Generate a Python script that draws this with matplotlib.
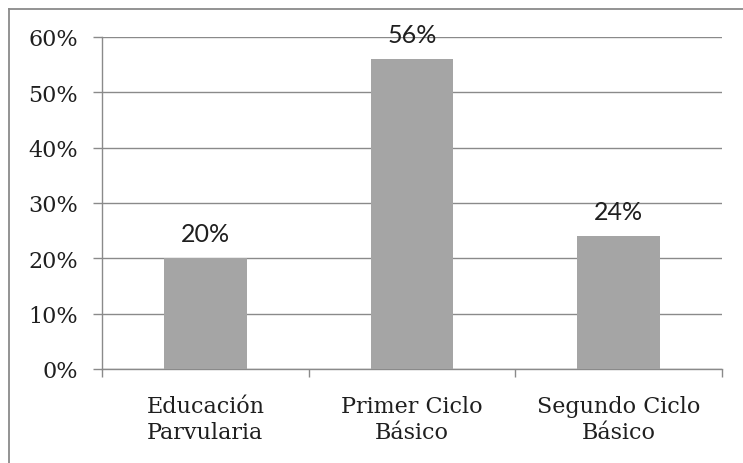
import matplotlib
matplotlib.use("Agg")
import matplotlib.pyplot as plt
from matplotlib.lines import Line2D
from matplotlib.ticker import FuncFormatter

categories = ["Educación\nParvularia", "Primer Ciclo\nBásico", "Segundo Ciclo\nBásico"]
values = [0.20, 0.56, 0.24]
labels = ["20%", "56%", "24%"]
yticks = [0.0, 0.1, 0.2, 0.3, 0.4, 0.5, 0.6]

W, H = 743, 464
fig = plt.figure(figsize=(W / 100, H / 100), dpi=100)
ax = fig.add_axes([102 / W, (H - 370) / H, (722 - 102) / W, (370 - 38) / H])

grid_c = "#8a8a8a"
text_c = "#1f1f1f"
serif = "DejaVu Serif"

x = list(range(len(categories)))
ax.bar(x, values, width=0.4, color="#a5a5a5", zorder=3)

for xi, v, lab in zip(x, values, labels):
    ax.annotate(lab, (xi, v), xytext=(0, 12.2), textcoords="offset points",
                ha="center", va="baseline", fontsize=18, family="Lato",
                color=text_c, zorder=4)

ax.set_xlim(-0.5, len(categories) - 0.5)
ax.set_ylim(0, 0.6)
ax.set_yticks(yticks)
ax.yaxis.set_major_formatter(FuncFormatter(lambda v, p: f"{v*100:.0f}%"))
ax.yaxis.grid(True, color=grid_c, linewidth=1.0, zorder=0)
ax.set_axisbelow(True)

ax.set_xticks(x)
ax.set_xticklabels(categories, family=serif, fontsize=16, color=text_c, linespacing=1.2)
ax.set_xticks([i - 0.5 for i in range(len(categories) + 1)], minor=True)
ax.tick_params(axis="x", which="major", length=0, pad=19)
ax.tick_params(axis="x", which="minor", length=6, width=1.0, color=grid_c, direction="out")
ax.tick_params(axis="y", which="major", length=6.5, width=1.0, color=grid_c, pad=11,
               labelsize=16, labelcolor=text_c)
for t in ax.get_yticklabels():
    t.set_family(serif)

for s in ["top", "right"]:
    ax.spines[s].set_visible(False)
for s in ["left", "bottom"]:
    ax.spines[s].set_color(grid_c)
    ax.spines[s].set_linewidth(1.0)

# outer chart border (left and top visible)
x0, y0 = 8.5 / W, 1 - 9.5 / H
fig.add_artist(Line2D([x0, x0], [0, y0], transform=fig.transFigure, color=grid_c, linewidth=1.3))
fig.add_artist(Line2D([x0, 1], [y0, y0], transform=fig.transFigure, color=grid_c, linewidth=1.3))

fig.savefig("out.png", dpi=100)
